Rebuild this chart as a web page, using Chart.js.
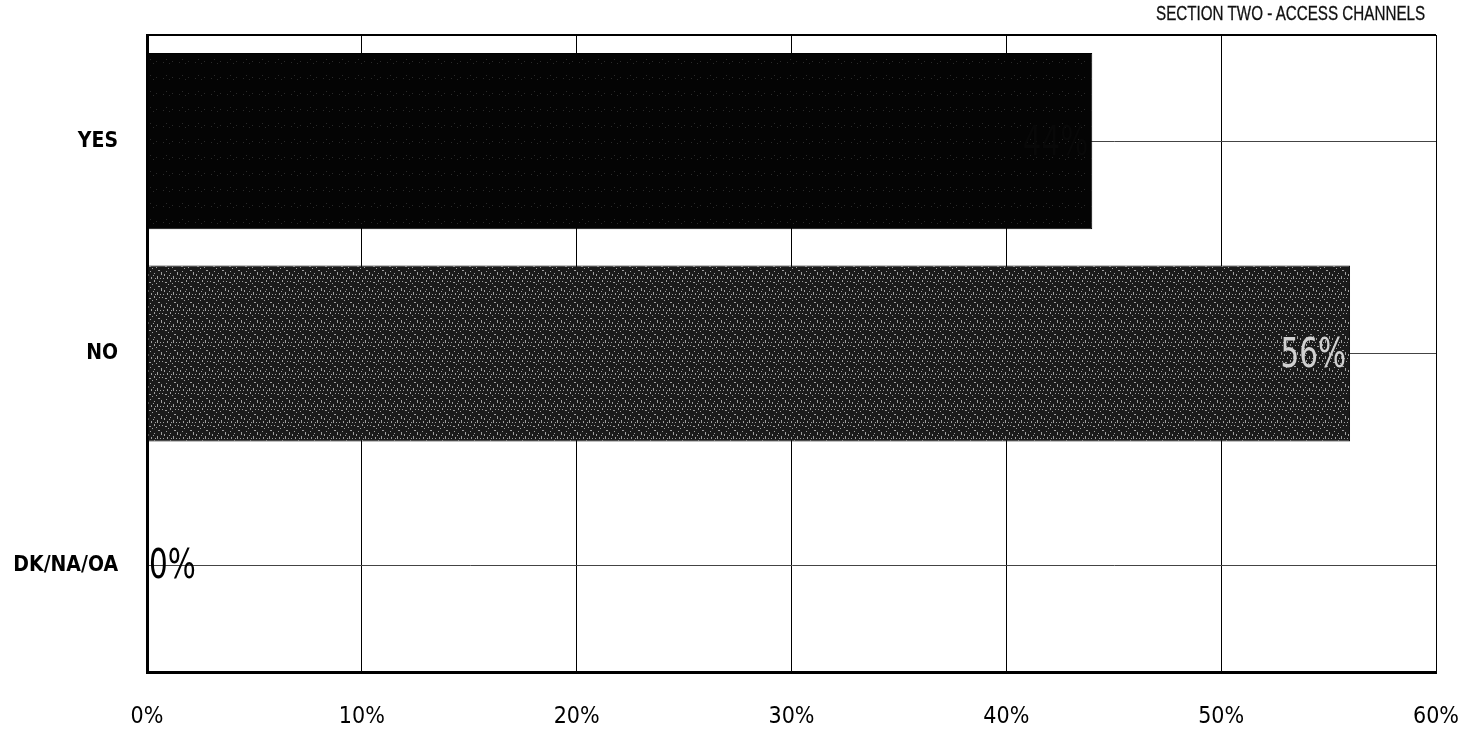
<!DOCTYPE html>
<html>
<head>
<meta charset="utf-8">
<title>Section Two - Access Channels</title>
<script src="https://cdn.jsdelivr.net/npm/chart.js@4.4.1/dist/chart.umd.min.js"></script>
<style>
  html, body { margin: 0; padding: 0; background: #ffffff; }
  #wrap { position: relative; width: 1465px; height: 729px; }
  #title {
    position: absolute; right: 40px; top: 2px;
    font-family: 'Liberation Sans', Arial, sans-serif;
    font-size: 20px; color: #111; white-space: nowrap;
    -webkit-text-stroke: 0.3px #111;
    transform: scaleX(0.76); transform-origin: right top;
  }
  canvas { display: block; }
</style>
</head>
<body>
<div id="wrap">
  <div id="title">SECTION TWO - ACCESS CHANNELS</div>
  <canvas id="chart" width="1465" height="729"></canvas>
</div>
<script>
// Survey answers and their shares (percent)
const categories = ['YES', 'NO', 'DK/NA/OA'];
const shares = [44, 56, 0];
// Percent axis
const axisMin = 0;
const axisMax = 60;
const axisStep = 10;

const COND = "'DejaVu Sans Condensed', 'Liberation Sans', sans-serif";

// Printed halftone-like fills for the bars
function makeTexture(base, light, spots) {
  const c = document.createElement('canvas');
  c.width = 16; c.height = 16;
  const g = c.getContext('2d');
  g.fillStyle = base;
  g.fillRect(0, 0, 16, 16);
  g.fillStyle = light;
  spots.forEach(([x, y, w, h]) => g.fillRect(x, y, w || 1, h || 1));
  return g.createPattern(c, 'repeat');
}

const ctx0 = document.getElementById('chart').getContext('2d');
const fills = [
  makeTexture('#040404', '#2a2a2a', [[3, 14], [9, 15], [12, 13], [6, 11]]),
  makeTexture('#1a1a1a', '#a0a0a0', [
    [1, 0, 1, 3], [4, 2, 1, 2], [7, 5, 1, 2], [10, 1], [10, 8, 1, 2], [2, 9],
    [5, 10, 2, 1], [8, 12], [0, 6], [13, 4, 1, 3], [3, 6], [12, 11], [14, 14, 2, 1],
    [6, 15], [11, 6], [15, 9], [9, 3]
  ]),
  '#111111'
];

// Value labels at the end of each bar, set in a condensed face
const valueLabels = {
  id: 'valueLabels',
  afterDatasetsDraw(chart) {
    const ctx = chart.ctx;
    const meta = chart.getDatasetMeta(0);
    const squeeze = 0.8;
    meta.data.forEach((bar, i) => {
      const v = chart.data.datasets[0].data[i];
      const text = v + '%';
      ctx.save();
      ctx.font = '41px ' + COND;
      ctx.textBaseline = 'middle';
      if (v === 0) {
        ctx.fillStyle = '#000000';
        ctx.textAlign = 'left';
        ctx.translate(bar.x + 2, bar.y + 2);
      } else {
        ctx.fillStyle = i === 0 ? '#080808' : '#d0d0d0';
        ctx.textAlign = 'right';
        ctx.translate(bar.x - 4, bar.y + 3);
      }
      ctx.scale(squeeze, 1);
      ctx.fillText(text, 0, 0);
      ctx.restore();
    });
  }
};

// Thin frame line across the top of the plot area
const topFrame = {
  id: 'topFrame',
  beforeDatasetsDraw(chart) {
    const { ctx, chartArea } = chart;
    ctx.save();
    ctx.strokeStyle = '#000';
    ctx.lineWidth = 2;
    ctx.beginPath();
    ctx.moveTo(chartArea.left, chartArea.top);
    ctx.lineTo(chartArea.right, chartArea.top);
    ctx.stroke();
    ctx.restore();
  }
};

function noEdgePadding(scale) {
  scale.paddingLeft = 0;
  scale.paddingRight = 0;
  scale.paddingTop = 0;
  scale.paddingBottom = 0;
}

new Chart(ctx0, {
  type: 'bar',
  data: {
    labels: categories,
    datasets: [{
      data: shares,
      backgroundColor: fills,
      borderColor: '#000000',
      borderWidth: 1,
      borderSkipped: false,
      categoryPercentage: 1.0,
      barPercentage: 0.83
    }]
  },
  options: {
    indexAxis: 'y',
    responsive: false,
    animation: false,
    layout: { padding: { top: 35, right: 29, left: 0, bottom: 0 } },
    plugins: {
      legend: { display: false },
      tooltip: { enabled: false },
      title: { display: false }
    },
    scales: {
      x: {
        min: axisMin,
        max: axisMax,
        ticks: {
          stepSize: axisStep,
          padding: 31,
          maxRotation: 0,
          color: '#000',
          font: { family: COND, size: 23 },
          callback: (v) => v + '%'
        },
        grid: { color: '#000', lineWidth: 1, drawTicks: false },
        border: { display: true, color: '#000', width: 3 },
        afterFit(scale) { scale.height = 57; noEdgePadding(scale); }
      },
      y: {
        ticks: {
          padding: 29,
          color: '#000',
          font: { family: COND, size: 21, weight: 'bold' }
        },
        grid: { color: '#444', lineWidth: 1, offset: false, drawTicks: false },
        border: { display: true, color: '#000', width: 3 },
        afterFit(scale) { scale.width = 147; noEdgePadding(scale); }
      }
    }
  },
  plugins: [topFrame, valueLabels]
});
</script>
</body>
</html>
